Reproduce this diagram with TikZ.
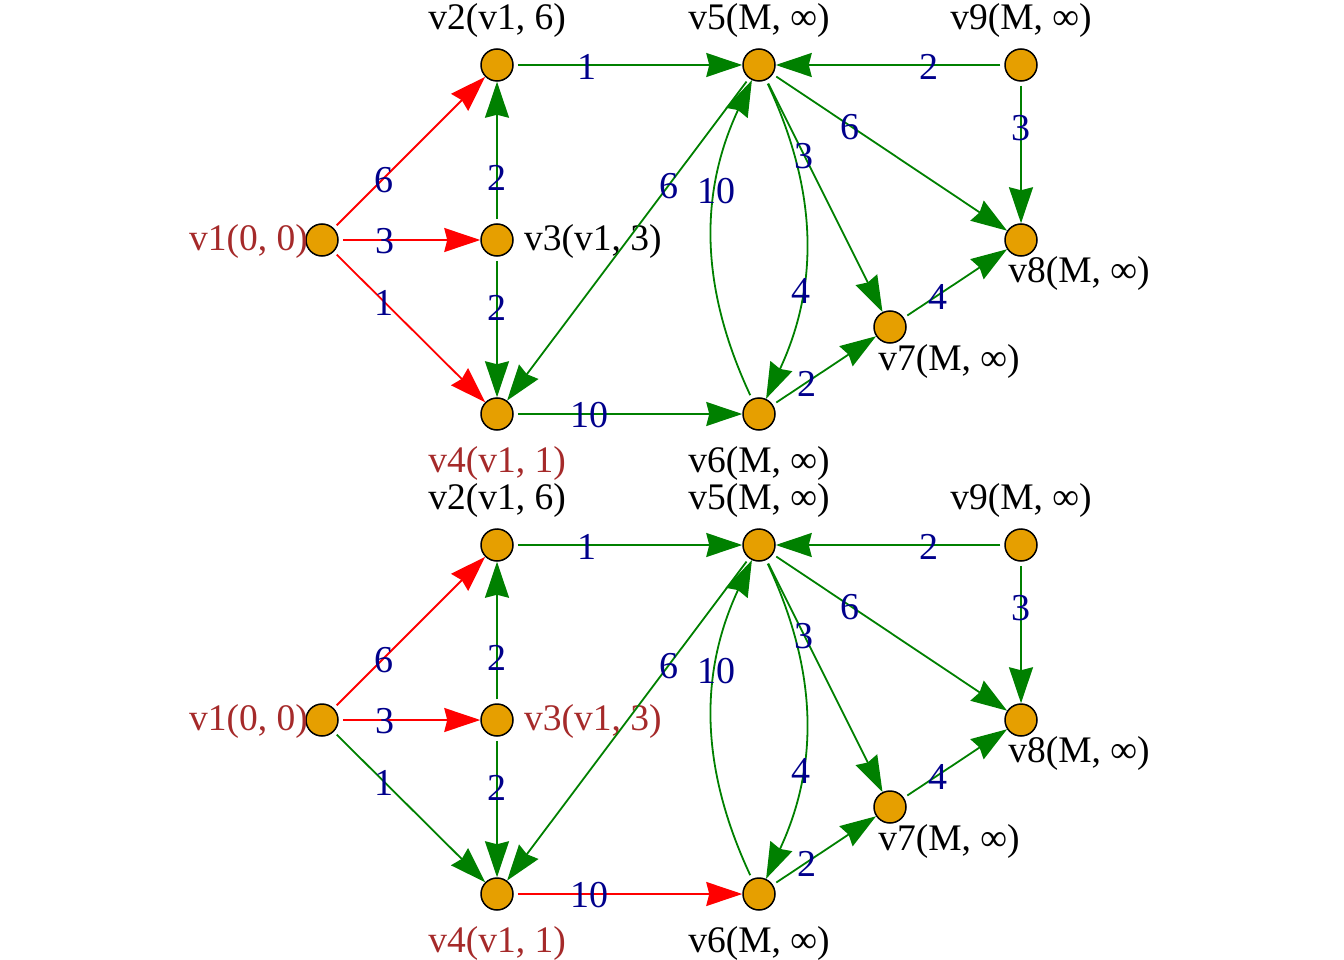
\documentclass[tikz,border=0pt]{standalone}
\usepackage{fontspec}
\setmainfont{Liberation Serif}
\usetikzlibrary{arrows.meta,calc}
\definecolor{nodefill}{HTML}{E69F00}
\definecolor{edgegreen}{HTML}{008000}
\definecolor{wblue}{HTML}{00008B}
\definecolor{labbrown}{HTML}{A52A2A}
\tikzset{
  vert/.style={circle, draw=black, line width=1.5pt, fill=nodefill, minimum size=32pt, inner sep=0pt},
  vlab/.style={font=\fontsize{37.5}{40}\selectfont, inner sep=0pt, text=black},
  wlab/.style={font=\fontsize{38}{40}\selectfont, inner sep=0pt, text=wblue, yshift=-1.5pt},
  edg/.style={line width=1.8pt, shorten <=4pt, -{Stealth[length=36pt,width=24pt,inset=3pt]}},
  gre/.style={edg, draw=edgegreen},
  rd/.style={edg, draw=red},
}
\newcommand\mygraph[4]{%
  \node[vert] (#1v1) at (322,240) {};
  \node[vert] (#1v2) at (497,65) {};
  \node[vert] (#1v3) at (497,240) {};
  \node[vert] (#1v4) at (497,414) {};
  \node[vert] (#1v5) at (759,65) {};
  \node[vert] (#1v6) at (759,414) {};
  \node[vert] (#1v7) at (890,327) {};
  \node[vert] (#1v8) at (1021,240) {};
  \node[vert] (#1v9) at (1021,65) {};
  \node[vlab, text=labbrown, anchor=east] (#1l1) at (308,241.5) {v1(0, 0)};
  \node[vlab] (#1l2) at (497,20.5) {v2(v1, 6)};
  \node[vlab, text=#4, anchor=west] (#1l3) at (524,241.5) {v3(v1, 3)};
  \node[vlab, text=labbrown] (#1l4) at (497,463.5) {v4(v1, 1)};
  \node[vlab] (#1l5) at (759,20.5) {v5(M, ∞)};
  \node[vlab] (#1l6) at (759,463.5) {v6(M, ∞)};
  \node[vlab] (#1l7) at (949,361.5) {v7(M, ∞)};
  \node[vlab] (#1l8) at (1079,273.5) {v8(M, ∞)};
  \node[vlab] (#1l9) at (1021,20.5) {v9(M, ∞)};
  \draw[rd] (#1v1) -- node[wlab,pos=0.33]{6} (#1v2);
  \draw[rd] (#1v1) -- node[wlab,pos=0.33]{3} (#1v3);
  \draw[#2] (#1v1) -- node[wlab,pos=0.33]{1} (#1v4);
  \draw[gre] (#1v3) -- node[wlab,pos=0.33]{2} (#1v2);
  \draw[gre] (#1v3) -- node[wlab,pos=0.35]{2} (#1v4);
  \draw[gre] (#1v2) -- node[wlab,pos=0.32]{1} (#1v5);
  \draw[gre] (#1v9) -- node[wlab,pos=0.33]{2} (#1v5);
  \draw[gre] (#1v5) -- node[wlab,pos=0.33]{6} (#1v4);
  \draw[gre] (#1v6) to[bend left=25] node[wlab,pos=0.66]{10} (#1v5);
  \draw[gre] (#1v5) to[bend left=25] node[wlab,pos=0.66]{4} (#1v6);
  \draw[gre] (#1v5) -- node[wlab,pos=0.32]{3} (#1v7);
  \draw[gre] (#1v5) -- node[wlab,pos=0.33]{6} (#1v8);
  \draw[gre] (#1v9) -- node[wlab,pos=0.32]{3} (#1v8);
  \draw[gre] (#1v7) -- node[wlab,pos=0.33]{4} (#1v8);
  \draw[gre] (#1v6) -- node[wlab,pos=0.33]{2} (#1v7);
  \draw[#3] (#1v4) -- node[wlab,pos=0.33]{10} (#1v6);
}
\begin{document}
\begin{tikzpicture}[x=1pt,y=-1pt]
  \useasboundingbox (0,0) rectangle (1344,960);
  \mygraph{a}{rd}{gre}{black}
  \begin{scope}[shift={(0,480)}]
    \mygraph{b}{gre}{rd}{labbrown}
  \end{scope}
\end{tikzpicture}
\end{document}
